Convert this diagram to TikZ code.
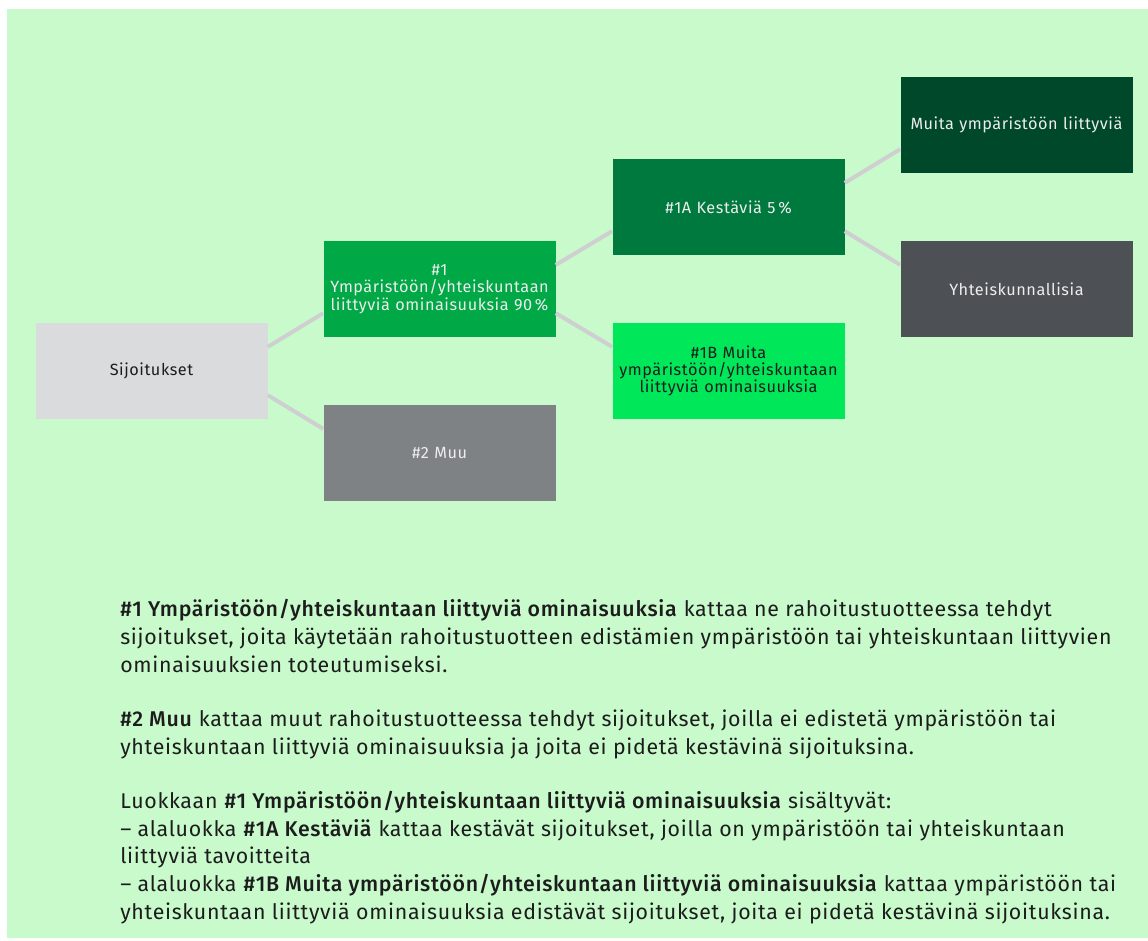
\documentclass[tikz,border=0pt]{standalone}
\usepackage{fontspec}
\setmainfont{Fira Sans}[LetterSpace=3.3, BoldFont={Fira Sans Medium}, BoldFeatures={LetterSpace=3.3}]
\usetikzlibrary{calc}
\definecolor{bg}{HTML}{C8FACC}
\definecolor{cS}{HTML}{D9DBDD}
\definecolor{cOne}{HTML}{00A846}
\definecolor{cTwo}{HTML}{7E8285}
\definecolor{cA}{HTML}{00793E}
\definecolor{cB}{HTML}{00E85A}
\definecolor{cM}{HTML}{00482A}
\definecolor{cY}{HTML}{4D5055}
\definecolor{conn}{HTML}{CFCFD1}
\definecolor{ink}{HTML}{1C1C1C}
\definecolor{lightink}{HTML}{EDEDED}
\tikzset{
  box/.style={rectangle, minimum width=173.25pt, minimum height=72pt, inner sep=1pt,
    align=center, text width=172pt, font=\fontsize{12.2}{13}\selectfont},
  darkbox/.style={box, text=lightink},
  lightbox/.style={box, text=ink},
  link/.style={draw=conn, line width=3pt},
  body/.style={anchor=base west, inner sep=0pt, text=ink, font=\fontsize{16}{18}\selectfont}
}
\begin{document}
\begin{tikzpicture}[x=0.75pt,y=-0.75pt]
\useasboundingbox (0,0) rectangle (1148,940);
\fill[white] (0,0) rectangle (1148,940);
\fill[bg] (7,9) rectangle (1148,938);
% boxes
\node[lightbox, fill=cS] (S) at (151.5,371) {Sijoitukset};
\node[darkbox, fill=cOne] (N1) at (439.5,289) {\#1\\ Ympäristöön/yhteiskuntaan liittyviä ominaisuuksia 90\,\%};
\node[darkbox, fill=cTwo] (N2) at (439.5,453) {\#2 Muu};
\node[darkbox, fill=cA] (A) at (728.5,207) {\#1A Kestäviä 5\,\%};
\node[lightbox, fill=cB] (B) at (728.5,371) {\#1B Muita\\ ympäristöön/yhteiskuntaan liittyviä ominaisuuksia};
\node[darkbox, fill=cM] (M) at (1016.5,125) {Muita ympäristöön liittyviä};
\node[darkbox, fill=cY] (Y) at (1016.5,289) {Yhteiskunnallisia};
% connectors
\draw[link] ($(S.north east)!0.25!(S.south east)$) -- ($(N1.north west)!0.75!(N1.south west)$);
\draw[link] ($(S.north east)!0.75!(S.south east)$) -- ($(N2.north west)!0.25!(N2.south west)$);
\draw[link] ($(N1.north east)!0.25!(N1.south east)$) -- ($(A.north west)!0.75!(A.south west)$);
\draw[link] ($(N1.north east)!0.75!(N1.south east)$) -- ($(B.north west)!0.25!(B.south west)$);
\draw[link] ($(A.north east)!0.25!(A.south east)$) -- ($(M.north west)!0.75!(M.south west)$);
\draw[link] ($(A.north east)!0.75!(A.south east)$) -- ($(Y.north west)!0.25!(Y.south west)$);
% text
\node[body] (t1) at (120,616) {\textbf{\#1 Ympäristöön/yhteiskuntaan liittyviä ominaisuuksia} kattaa ne rahoitustuotteessa tehdyt};
\node[body] (t2) at (120,644) {sijoitukset, joita käytetään rahoitustuotteen edistämien ympäristöön tai yhteiskuntaan liittyvien};
\node[body] (t3) at (120,672) {ominaisuuksien toteutumiseksi.};
\node[body] (t4) at (120,726) {\textbf{\#2 Muu} kattaa muut rahoitustuotteessa tehdyt sijoitukset, joilla ei edistetä ympäristöön tai};
\node[body] (t5) at (120,754) {yhteiskuntaan liittyviä ominaisuuksia ja joita ei pidetä kestävinä sijoituksina.};
\node[body] (t6) at (120,808) {Luokkaan \textbf{\#1 Ympäristöön/yhteiskuntaan liittyviä ominaisuuksia} sisältyvät:};
\node[body] (t7) at (120,836) {– alaluokka \textbf{\#1A Kestäviä} kattaa kestävät sijoitukset, joilla on ympäristöön tai yhteiskuntaan};
\node[body] (t8) at (120,863) {liittyviä tavoitteita};
\node[body] (t9) at (120,891) {– alaluokka \textbf{\#1B Muita ympäristöön/yhteiskuntaan liittyviä ominaisuuksia} kattaa ympäristöön tai};
\node[body] (t10) at (120,919) {yhteiskuntaan liittyviä ominaisuuksia edistävät sijoitukset, joita ei pidetä kestävinä sijoituksina.};
\end{tikzpicture}
\end{document}
